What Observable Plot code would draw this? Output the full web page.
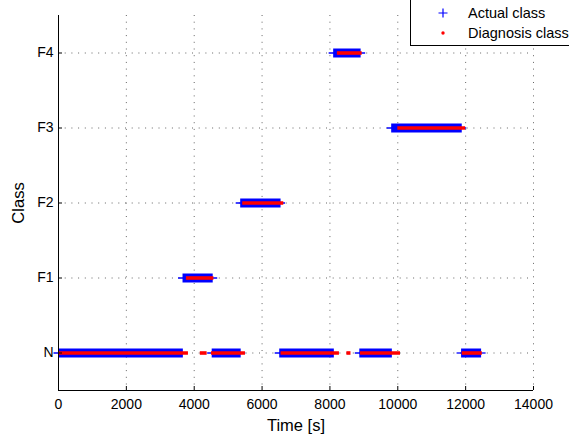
<!DOCTYPE html>
<html><head><meta charset="utf-8">
<script src="https://cdn.jsdelivr.net/npm/d3@7"></script>
<script src="https://cdn.jsdelivr.net/npm/@observablehq/plot@0.6"></script>
<style>
body{margin:0;background:#fff;overflow:hidden;}
#wrap{position:relative;width:569px;height:436px;overflow:hidden;font-family:"Liberation Sans",Arial,sans-serif;}
#legend{position:absolute;left:410px;top:-2px;width:200px;height:46px;border:1px solid #000;background:#fff;font-size:14.5px;color:#000;}
.row{position:absolute;left:0;height:18px;line-height:18px;}
.row svg{position:absolute;left:25px;top:2px;}
.row span{position:absolute;left:57px;white-space:nowrap;}
svg g[aria-label="x-axis label"] text, svg g[aria-label="y-axis label"] text{font-size:16.5px;}
</style>
</head><body>
<div id="wrap">
<div id="chart"></div>
<div id="legend">
  <div class="row" style="top:5px;"><svg width="14" height="14"><path d="M7 2.5V11.5M2.5 7H11.5" stroke="#0000ff" stroke-width="1.2"/></svg><span>Actual class</span></div>
  <div class="row" style="top:25px;"><svg width="14" height="14"><circle cx="7" cy="7" r="1.7" fill="#ff0000"/></svg><span>Diagnosis class</span></div>
</div>
</div>
<script>
const classes = ["N", "F1", "F2", "F3", "F4"];
const actualClass = ["N", "F1", "N", "F2", "N", "F4", "N", "F3", "N"];
const actualStart = [0, 3670, 4530, 5370, 6520, 8110, 8880, 9820, 11880];
const actualEnd   = [3680, 4560, 5385, 6560, 8130, 8920, 9840, 11900, 12470];
const diagClass = ["N", "F1", "N", "N", "F2", "N", "F4", "N", "N", "F3", "N"];
const diagStart = [0, 3770, 4180, 4510, 5430, 6560, 8220, 8500, 8900, 10000, 11900];
const diagEnd   = [3830, 4580, 4380, 5510, 6640, 8280, 8950, 8620, 10080, 12000, 12490];
const xTicks = [0, 2000, 4000, 6000, 8000, 10000, 12000, 14000];

const actual = actualClass.map((c, i) => ({cls: c, x1: actualStart[i], x2: actualEnd[i]}));
const diag = diagClass.map((c, i) => ({cls: c, x1: diagStart[i], x2: diagEnd[i]}));
const yIdx = d => classes.indexOf(d.cls);
const yTicks = classes.map((c, i) => i);
const yMin = -0.5, yMax = 4.5;
const gridStyle = {stroke: "#555", strokeOpacity: 0.9, strokeWidth: 1, strokeDasharray: "1,5.7"};

const chart = Plot.plot({
  width: 569, height: 436,
  marginLeft: 58, marginRight: 36, marginTop: 15, marginBottom: 46,
  style: {fontFamily: "Liberation Sans, Arial, sans-serif", fontSize: "14px", background: "#fff", color: "#000"},
  x: {domain: [0, 14000]},
  y: {domain: [yMin, yMax]},
  marks: [
    Plot.ruleX(xTicks.slice(1), {x: d => d, ...gridStyle}),
    Plot.ruleY(yTicks, {y: d => d, x1: 0, x2: 14000, ...gridStyle}),
    Plot.ruleY(actual, {y: yIdx, x1: "x1", x2: "x2", stroke: "#0000ff", strokeWidth: 1.3, insetLeft: -4.5, insetRight: -4.5}),
    Plot.ruleY(actual, {y: yIdx, x1: "x1", x2: "x2", stroke: "#0000ff", strokeWidth: 9}),
    Plot.ruleY(diag, {y: yIdx, x1: "x1", x2: "x2", stroke: "#ff0000", strokeWidth: 3.6}),
    Plot.ruleX([0], {stroke: "#000"}),
    Plot.ruleY([yMin], {x1: 0, x2: 14000, stroke: "#000"}),
    Plot.tickX(xTicks, {x: d => d, insetTop: 371, stroke: "#000"}),
    Plot.tickY(yTicks, {y: d => d, insetRight: 471, stroke: "#000"}),
    Plot.axisX({ticks: xTicks, tickFormat: d => String(d), tickSize: 0, tickPadding: 9,
      label: "Time [s]", labelAnchor: "center", labelOffset: 40, labelArrow: "none"}),
    Plot.axisY({ticks: yTicks, tickFormat: i => classes[i], tickSize: 0, tickPadding: 5,
      label: "Class", labelAnchor: "center", labelOffset: 46, labelArrow: "none"})
  ]
});
document.getElementById("chart").appendChild(chart);
</script>
</body></html>
